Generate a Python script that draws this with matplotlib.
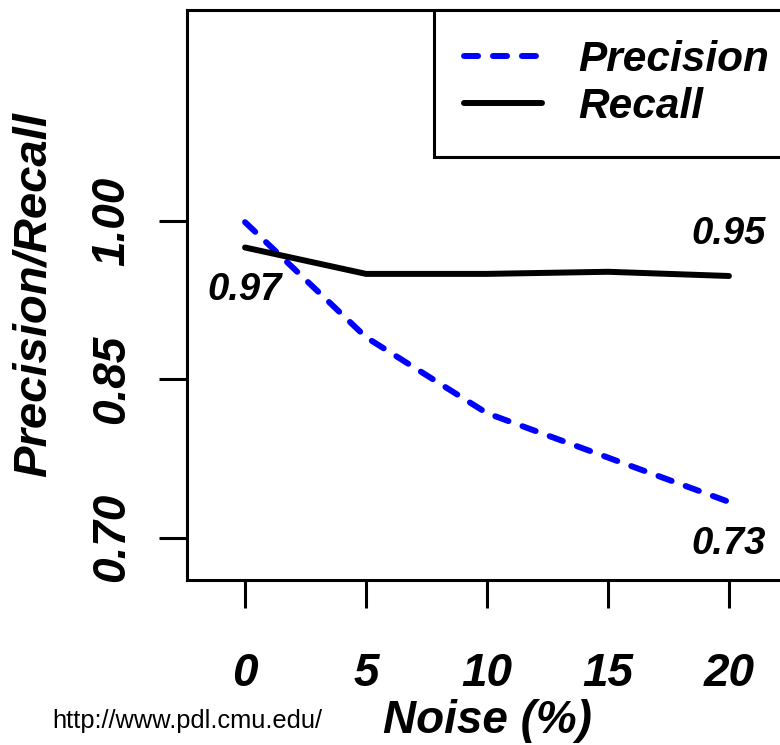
import matplotlib
matplotlib.use("Agg")
import matplotlib.pyplot as plt

noise = [0, 5, 10, 15, 20]
precision = [0.999, 0.89, 0.818, 0.776, 0.734]
recall = [0.975, 0.95, 0.95, 0.952, 0.948]
xticks = [0, 5, 10, 15, 20]
yticks = [0.70, 0.85, 1.00]
ytick_labels = ["0.70", "0.85", "1.00"]
annotations = [(0, 0.935, "0.97"), (20, 0.988, "0.95"), (20, 0.694, "0.73")]

FONT = "Liberation Sans"
W, H = 780, 745
fig = plt.figure(figsize=(W / 100, H / 100), dpi=100)
ax = fig.add_axes([187 / W, (H - 580) / H, 600 / W, 570 / H])
ax.set_xlim(-2.4, 22.4)
ax.set_ylim(0.66, 1.2)

lw = 4.3
ax.plot(noise, precision, color=(0, 0, 1), lw=lw, dashes=(2.35, 2.5),
        dash_capstyle="round", solid_capstyle="round", label="Precision")
ax.plot(noise, recall, color="black", lw=lw, solid_capstyle="round",
        label="Recall")

bi = dict(family=FONT, weight="bold", style="italic")
for x, y, t in annotations:
    ax.text(x, y, t, ha="center", va="center", fontsize=27.5, **bi)

for s in ax.spines.values():
    s.set_linewidth(2.2)

ax.set_xticks(xticks)
ax.set_xticklabels([str(v) for v in xticks], fontsize=33, **bi)
ax.set_yticks(yticks)
ax.set_yticklabels(ytick_labels, fontsize=33, rotation=90, va="center", **bi)
ax.tick_params(axis="x", direction="out", length=20, width=2.2, pad=32)
ax.tick_params(axis="y", direction="out", length=20, width=2.2, pad=18)

ax.set_xlabel("Noise (%)", fontsize=33, labelpad=2, **bi)
ax.set_ylabel("Precision/Recall", fontsize=34, labelpad=25, **bi)

leg = ax.legend(loc="upper right", bbox_to_anchor=(1 + 12 / 600, 1),
                borderaxespad=0, fancybox=False,
                edgecolor="black", framealpha=1, handlelength=1.84,
                handletextpad=0.87, borderpad=0.7, labelspacing=0.18,
                prop=dict(family=FONT, weight="bold", style="italic", size=30.5))
leg.get_frame().set_linewidth(2.2)

fig.text(52 / W, 1 - 728 / H, "http://www.pdl.cmu.edu/", fontsize=18.3,
         family=FONT, ha="left", va="baseline")

fig.savefig("out.png", dpi=100)
